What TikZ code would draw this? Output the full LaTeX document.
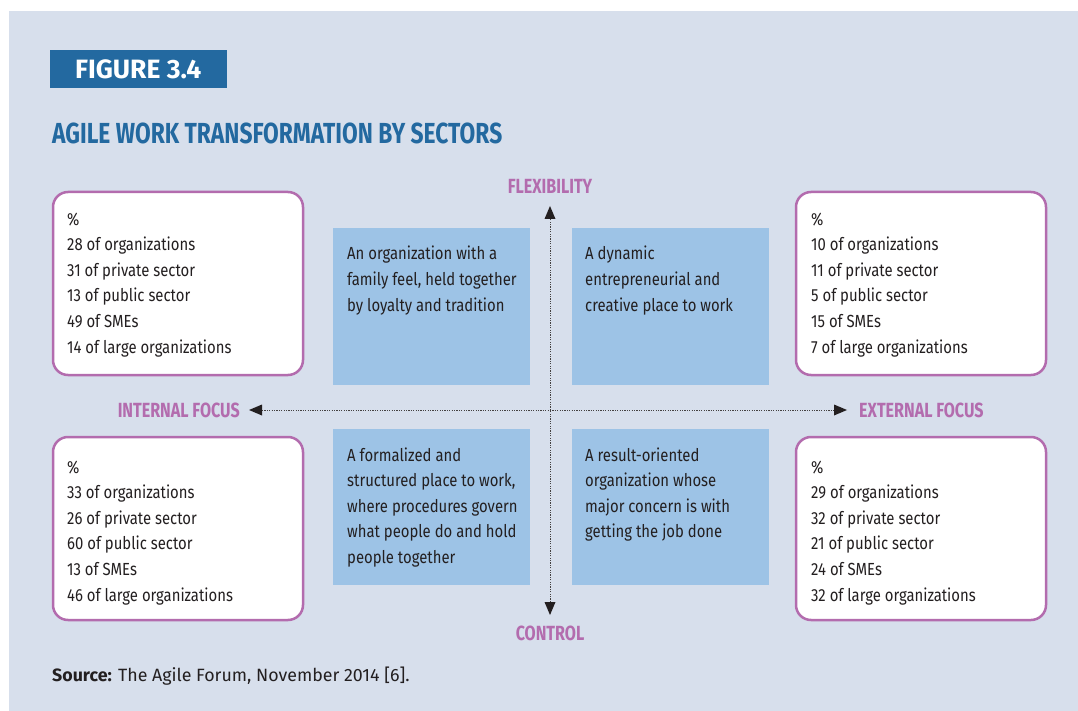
\documentclass[tikz,border=0pt]{standalone}
\usepackage{fontspec}
\setmainfont{Fira Sans}
\newfontfamily\cond[FakeStretch=0.85]{Fira Sans}
\newfontfamily\condt[FakeStretch=0.785]{Fira Sans}
\usetikzlibrary{arrows.meta}
\definecolor{panel}{HTML}{D7DFEC}
\definecolor{figblue}{HTML}{2369A0}
\definecolor{magent}{HTML}{B36CAE}
\definecolor{lightblue}{HTML}{9DC3E6}
\definecolor{ink}{HTML}{231F20}
\tikzset{
  wbox/.style={draw=magent, line width=2.5pt, fill=white, rounded corners=15pt},
  bluebox/.style={fill=lightblue, draw=none},
  bodytext/.style={anchor=base west, inner sep=0pt, align=left, text=ink,
    font=\cond\fontsize{17.5}{25.6}\selectfont},
  axislabel/.style={inner sep=0pt, text=magent, font=\condt\bfseries\fontsize{20.5}{24}\selectfont},
  axistip/.tip={Triangle[length=13pt,width=11pt,color=ink,line width=0pt]},
  axisline/.style={draw=ink!85, line width=1pt, dash pattern=on 1.2pt off 1.2pt, axistip-axistip}
}
\begin{document}
\begin{tikzpicture}[x=1pt,y=-1pt]
\useasboundingbox (0,0) rectangle (1078,711);
\fill[panel] (9,11) rectangle (1078,711);
% header
\fill[figblue] (50,50) rectangle (227,88);
\node[anchor=base west, inner sep=0pt, text=white, font=\bfseries\fontsize{26.5}{30}\selectfont] (fig) at (75,79) {FIGURE 3.4};
\node[anchor=base west, inner sep=0pt, text=figblue, font=\condt\bfseries\fontsize{29}{33}\selectfont] (title) at (52,144) {AGILE WORK TRANSFORMATION BY SECTORS};
% white boxes
\path[wbox] (53,192) rectangle (303,375);
\path[wbox] (796,192) rectangle (1046,375);
\path[wbox] (53,437) rectangle (303,620);
\path[wbox] (796,437) rectangle (1046,620);
% blue boxes
\fill[bluebox] (333,228) rectangle (530,385);
\fill[bluebox] (572,228) rectangle (769,385);
\fill[bluebox] (333,429) rectangle (530,585);
\fill[bluebox] (572,429) rectangle (769,585);
% axes
\coordinate (vt) at (550,206);
\coordinate (vb) at (550,615);
\coordinate (hl) at (249,410);
\coordinate (hr) at (847,410);
\draw[axisline] (hl) -- (hr);
\draw[axisline] (vb) -- (vt);
\node[axislabel, anchor=base] (flex) at (550,194) {FLEXIBILITY};
\node[axislabel, anchor=base] (ctrl) at (550,640) {CONTROL};
\node[axislabel, anchor=base east] (intf) at (240,417) {INTERNAL FOCUS};
\node[axislabel, anchor=base west] (extf) at (859,417) {EXTERNAL FOCUS};
% white box texts (anchor = baseline of last line)
\node[bodytext] (tl) at (67,353) {\%\\28 of organizations\\31 of private sector\\13 of public sector\\49 of SMEs\\14 of large organizations};
\node[bodytext] (tr) at (811,353) {\%\\10 of organizations\\11 of private sector\\5 of public sector\\15 of SMEs\\7 of large organizations};
\node[bodytext] (bl) at (67,601) {\%\\33 of organizations\\26 of private sector\\60 of public sector\\13 of SMEs\\46 of large organizations};
\node[bodytext] (br) at (811,601) {\%\\29 of organizations\\32 of private sector\\21 of public sector\\24 of SMEs\\32 of large organizations};
% blue box texts
\node[bodytext] (q1) at (347,311.2) {An organization with a\\family feel, held together\\by loyalty and tradition};
\node[bodytext] (q2) at (585,311.2) {A dynamic\\entrepreneurial and\\creative place to work};
\node[bodytext] (q3) at (347,563.4) {A formalized and\\structured place to work,\\where procedures govern\\what people do and hold\\people together};
\node[bodytext] (q4) at (585,537.8) {A result-oriented\\organization whose\\major concern is with\\getting the job done};
% source
\node[anchor=base west, inner sep=0pt, text=ink, font=\fontsize{17.8}{20}\selectfont] (src) at (52,681) {\textbf{Source:} The Agile Forum, November 2014 [6].};
\end{tikzpicture}
\end{document}
